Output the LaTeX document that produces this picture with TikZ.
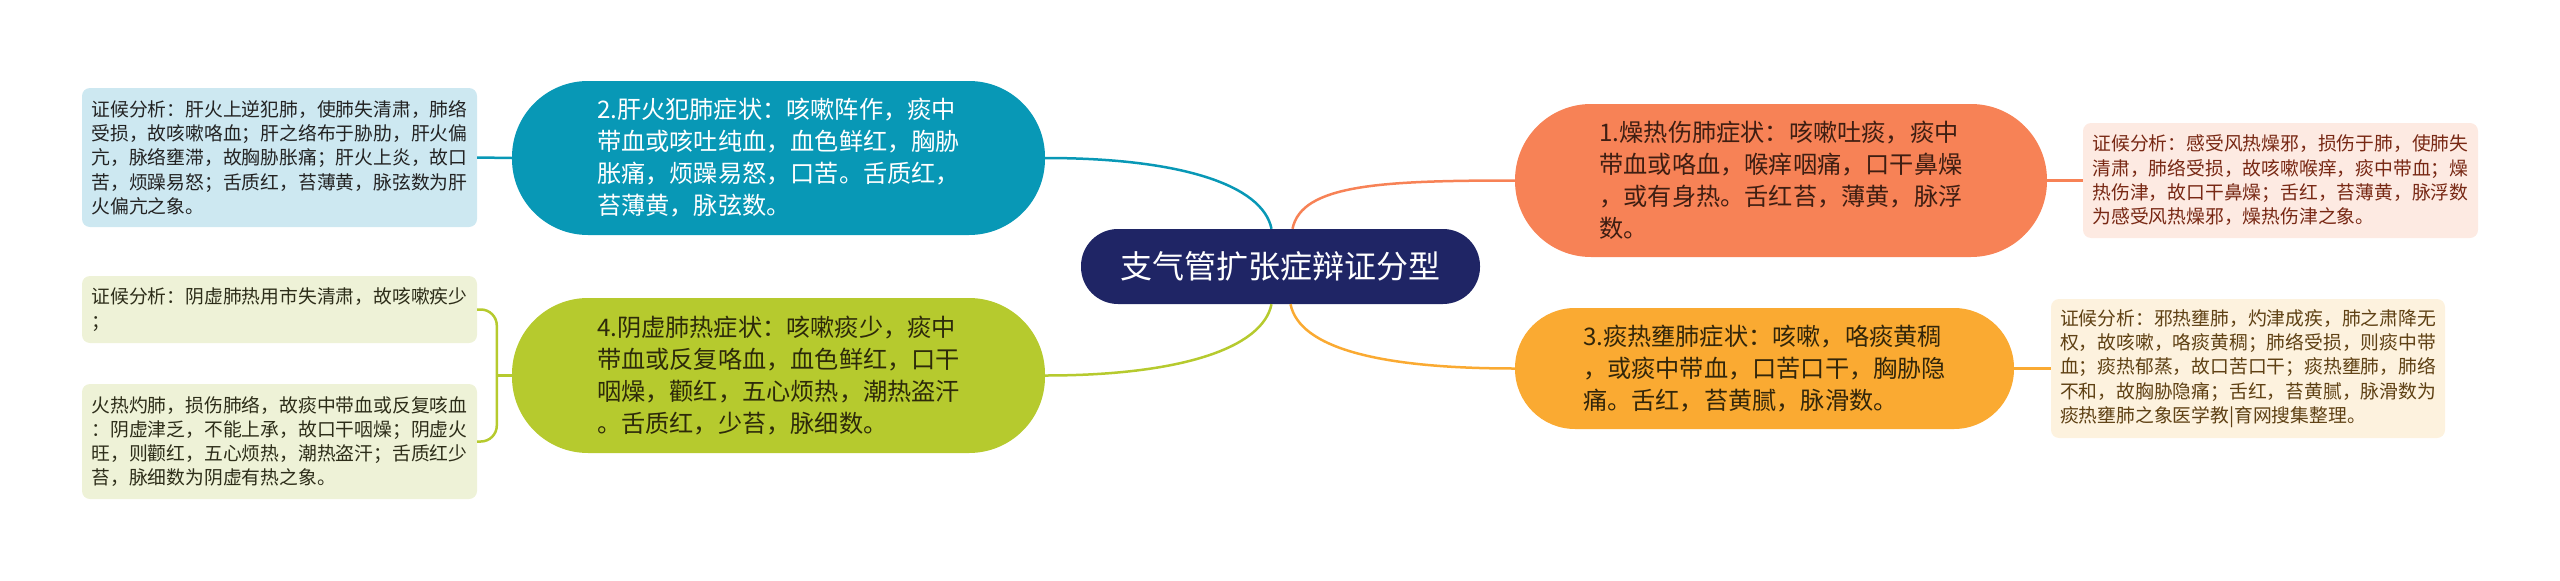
\documentclass[tikz,border=0pt]{standalone}
\usepackage{fontspec}
\setmainfont{Noto Sans CJK SC}
\definecolor{rootblue}{RGB}{31,37,101}
\definecolor{topicteal}{RGB}{8,152,182}
\definecolor{noteblue}{RGB}{205,232,241}
\definecolor{topicgreen}{RGB}{182,202,46}
\definecolor{notegreen}{RGB}{238,242,215}
\definecolor{topicorange}{RGB}{247,130,86}
\definecolor{noteorange}{RGB}{253,234,226}
\definecolor{topicamber}{RGB}{250,170,50}
\definecolor{noteamber}{RGB}{253,242,222}

\begin{document}
\begin{tikzpicture}[x=1pt, y=-1pt,
    root/.style={fill=rootblue, text=white, rounded corners=37pt, inner sep=0pt,
        minimum width=399pt, minimum height=75pt, font=\fontsize{32}{38}\selectfont},
    topic/.style={rounded corners=#1, align=left, inner sep=0pt,
        font=\fontsize{24.2}{32}\selectfont},
    note/.style={rounded corners=8pt, align=left, inner sep=0pt,
        minimum width=395pt, font=\fontsize{18.8}{24.3}\selectfont},
    link/.style={line width=2.5pt}]
    \useasboundingbox (0,0) rectangle (2560,581);
    % Title
    \draw (1280.5,266.5) node[root] (Root) {支气管扩张症辩证分型};
    \draw (778.5,158) node[topic=76pt, fill=topicteal, text=white,
        minimum width=533pt, minimum height=154pt] (Topic2)
        {2.肝火犯肺症状：咳嗽阵作，痰中\\带血或咳吐纯血，血色鲜红，胸胁\\胀痛，烦躁易怒，口苦。舌质红，\\苔薄黄，脉弦数。};
    \draw (778.5,375.5) node[topic=76pt, fill=topicgreen, text={rgb,255:red,45;green,42;blue,10},
        minimum width=533pt, minimum height=155pt] (Topic4)
        {4.阴虚肺热症状：咳嗽痰少，痰中\\带血或反复咯血，血色鲜红，口干\\咽燥，颧红，五心烦热，潮热盗汗\\。舌质红，少苔，脉细数。};
    \draw (1781,180.5) node[topic=76pt, fill=topicorange, text={rgb,255:red,62;green,30;blue,18},
        minimum width=532pt, minimum height=153pt] (Topic1)
        {1.燥热伤肺症状：咳嗽吐痰，痰中\\带血或咯血，喉痒咽痛，口干鼻燥\\，或有身热。舌红苔，薄黄，脉浮\\数。};
    \draw (1764.5,368.5) node[topic=60pt, fill=topicamber, text={rgb,255:red,50;green,38;blue,10},
        minimum width=499pt, minimum height=121pt] (Topic3)
        {3.痰热壅肺症状：咳嗽，咯痰黄稠\\，或痰中带血，口苦口干，胸胁隐\\痛。舌红，苔黄腻，脉滑数。};
    \draw (279.5,157.5) node[note, fill=noteblue, text={rgb,255:red,35;green,35;blue,35},
        minimum height=139pt] (Note2)
        {证候分析：肝火上逆犯肺，使肺失清肃，肺络\\受损，故咳嗽咯血；肝之络布于胁肋，肝火偏\\亢，脉络壅滞，故胸胁胀痛；肝火上炎，故口\\苦，烦躁易怒；舌质红，苔薄黄，脉弦数为肝\\火偏亢之象。};
    \draw (279.5,309.5) node[note, fill=notegreen, text={rgb,255:red,45;green,45;blue,25},
        minimum height=67pt] (Note4a)
        {证候分析：阴虚肺热用市失清肃，故咳嗽疾少\\；};
    \draw (279.5,441.5) node[note, fill=notegreen, text={rgb,255:red,45;green,45;blue,25},
        minimum height=115pt] (Note4b)
        {火热灼肺，损伤肺络，故痰中带血或反复咳血\\：阴虚津乏，不能上承，故口干咽燥；阴虚火\\旺，则颧红，五心烦热，潮热盗汗；舌质红少\\苔，脉细数为阴虚有热之象。};
    \draw (2280.5,180.5) node[note, fill=noteorange, text={rgb,255:red,120;green,40;blue,20},
        minimum height=115pt] (Note1)
        {证候分析：感受风热燥邪，损伤于肺，使肺失\\清肃，肺络受损，故咳嗽喉痒，痰中带血；燥\\热伤津，故口干鼻燥；舌红，苔薄黄，脉浮数\\为感受风热燥邪，燥热伤津之象。};
    \draw (2248,368.5) node[note, fill=noteamber, text={rgb,255:red,95;green,65;blue,20},
        minimum width=394pt, minimum height=139pt] (Note3)
        {证候分析：邪热壅肺，灼津成疾，肺之肃降无\\权，故咳嗽，咯痰黄稠；肺络受损，则痰中带\\血；痰热郁蒸，故口苦口干；痰热壅肺，肺络\\不和，故胸胁隐痛；舌红，苔黄腻，脉滑数为\\痰热壅肺之象医学教|育网搜集整理。};
    \coordinate (Brace) at ([xshift=-15pt]Topic4.west);
    \draw[link, draw=topicteal] (Topic2.east)
        .. controls +(135,0) and +(-9,-44) .. ([xshift=-9pt]Root.north);
    \draw[link, draw=topicgreen] (Topic4.east)
        .. controls +(135,0) and +(-9,44) .. ([xshift=-9pt]Root.south);
    \draw[link, draw=topicorange] (Topic1.west)
        .. controls +(-135,0) and +(9,-44) .. ([xshift=12pt]Root.north);
    \draw[link, draw=topicamber] (Topic3.west)
        .. controls +(-135,0) and +(9,44) .. ([xshift=10pt]Root.south);
    \draw[link, draw=topicteal] (Note2.east) -- (Topic2.west);
    \draw[link, draw=topicorange] (Topic1.east) -- (Note1.west);
    \draw[link, draw=topicamber] (Topic3.east) -- (Note3.west);
    \draw[link, draw=topicgreen] (Topic4.west) -- (Brace);
    \draw[link, draw=topicgreen, rounded corners=16pt] (Note4a.east)
        -| (Brace) |- (Note4b.east);
\end{tikzpicture}
\end{document}
